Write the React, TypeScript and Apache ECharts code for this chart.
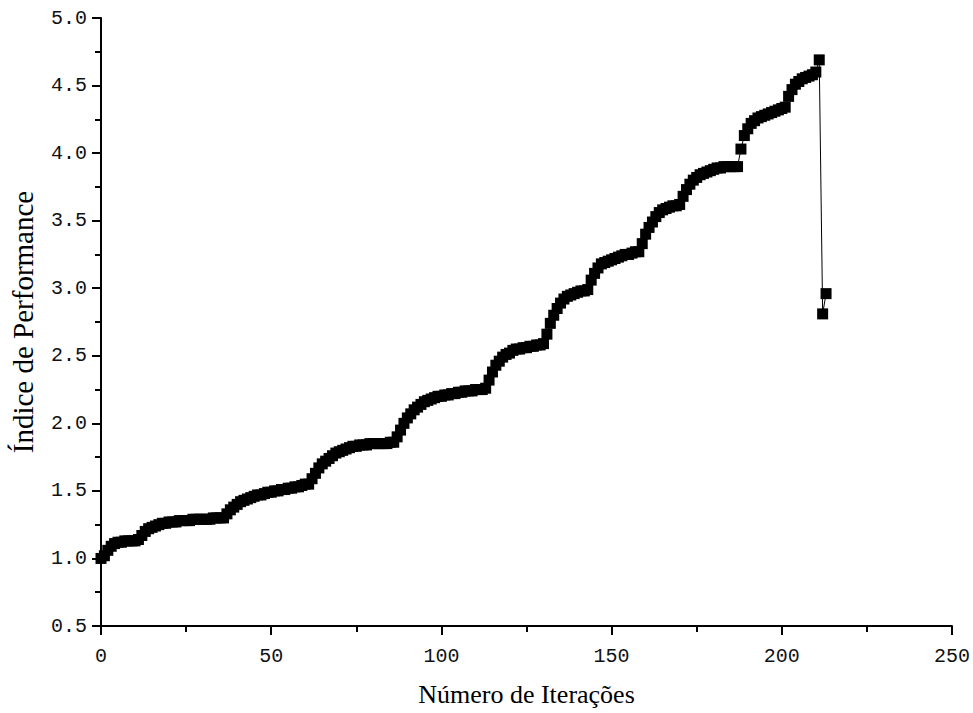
import { useEffect, useRef } from "react";
import * as echarts from "echarts";

// Performance index, one value per iteration (0..213)
const performance: number[] = [
  // 0-11
  1.0, 1.02, 1.06, 1.09, 1.11, 1.12, 1.12, 1.13, 1.13, 1.13, 1.13, 1.14,
  // 12-36
  1.17, 1.2, 1.22, 1.23, 1.24, 1.25, 1.26, 1.26, 1.27, 1.27, 1.27, 1.28, 1.28,
  1.28, 1.28, 1.29, 1.29, 1.29, 1.29, 1.29, 1.29, 1.3, 1.3, 1.3, 1.3,
  // 37-61
  1.33, 1.36, 1.38, 1.4, 1.42, 1.43, 1.44, 1.45, 1.46, 1.47, 1.47, 1.48, 1.49,
  1.49, 1.5, 1.5, 1.51, 1.51, 1.52, 1.52, 1.53, 1.53, 1.54, 1.55, 1.55,
  // 62-86
  1.59, 1.63, 1.67, 1.7, 1.72, 1.74, 1.76, 1.78, 1.79, 1.8, 1.81, 1.82, 1.83,
  1.83, 1.84, 1.84, 1.84, 1.85, 1.85, 1.85, 1.85, 1.85, 1.85, 1.86, 1.86,
  // 87-113
  1.9, 1.95, 2.0, 2.04, 2.07, 2.1, 2.12, 2.14, 2.16, 2.17, 2.18, 2.19, 2.2, 2.2,
  2.21, 2.21, 2.22, 2.22, 2.23, 2.23, 2.24, 2.24, 2.24, 2.25, 2.25, 2.25, 2.26,
  // 114-130
  2.32, 2.38, 2.43, 2.46, 2.49, 2.51, 2.52, 2.54, 2.55, 2.55, 2.56, 2.56, 2.57,
  2.57, 2.58, 2.58, 2.59,
  // 131-143
  2.66, 2.74, 2.8, 2.85, 2.89, 2.92, 2.94, 2.95, 2.96, 2.97, 2.98, 2.98, 2.99,
  // 144-158
  3.06, 3.11, 3.15, 3.18, 3.19, 3.2, 3.21, 3.22, 3.23, 3.24, 3.25, 3.25, 3.26,
  3.27, 3.27,
  // 159-170
  3.33, 3.4, 3.45, 3.49, 3.53, 3.56, 3.58, 3.59, 3.6, 3.61, 3.61, 3.62,
  // 171-187
  3.68, 3.73, 3.77, 3.8, 3.82, 3.84, 3.85, 3.86, 3.87, 3.88, 3.89, 3.89, 3.9,
  3.9, 3.9, 3.9, 3.9,
  // 188-201
  4.03, 4.13, 4.18, 4.22, 4.24, 4.26, 4.27, 4.28, 4.29, 4.3, 4.31, 4.32, 4.33,
  4.34,
  // 202-210
  4.42, 4.47, 4.51, 4.53, 4.55, 4.56, 4.57, 4.58, 4.6,
  // 211-213
  4.69, 2.81, 2.96,
];

const xTitle = "Número de Iterações";
const yTitle = "Índice de Performance";
const xRange = [0, 250];
const yRange = [0.5, 5.0];

export default function App() {
  const ref = useRef<HTMLDivElement>(null);
  useEffect(() => {
    const chart = echarts.init(ref.current!, null, { renderer: "svg" });
    const axisCommon = {
      axisLine: { show: true, lineStyle: { color: "#000", width: 2 } },
      axisTick: { show: true, inside: false, length: 9, lineStyle: { color: "#000", width: 2 } },
      minorTick: { show: true, splitNumber: 2, length: 6, lineStyle: { color: "#000", width: 2 } },
      splitLine: { show: false },
      minorSplitLine: { show: false },
    };
    chart.setOption({
      animation: false,
      backgroundColor: "#fff",
      grid: { left: 99, right: 11, top: 18, bottom: 87 },
      xAxis: {
        type: "value",
        min: xRange[0],
        max: xRange[1],
        interval: 50,
        ...axisCommon,
        name: xTitle,
        nameLocation: "middle",
        nameGap: 55,
        nameTextStyle: { fontFamily: "'Liberation Serif', serif", fontSize: 26, color: "#000" },
        axisLabel: {
          margin: 20,
          color: "#111",
          fontFamily: "'Liberation Sans Narrow', 'Liberation Mono', monospace",
          fontSize: 20,
        },
      },
      yAxis: {
        type: "value",
        min: yRange[0],
        max: yRange[1],
        interval: 0.5,
        ...axisCommon,
        name: yTitle,
        nameLocation: "middle",
        nameGap: 64,
        nameRotate: 90,
        nameTextStyle: { fontFamily: "'Liberation Serif', serif", fontSize: 29, color: "#000" },
        axisLabel: {
          margin: 14,
          color: "#111",
          fontFamily: "'Liberation Mono', monospace",
          fontSize: 20,
          formatter: (v: number) => v.toFixed(1),
        },
      },
      series: [
        {
          type: "line",
          data: performance.map((v, i) => [i, v]),
          symbol: "rect",
          symbolSize: 11,
          showAllSymbol: true,
          clip: false,
          itemStyle: { color: "#000" },
          lineStyle: { color: "#000", width: 1 },
        },
      ],
    });
    return () => chart.dispose();
  }, []);
  return (
    <div
      ref={ref}
      style={{ position: "fixed", left: 0, top: 0, width: 973, height: 713, background: "#fff" }}
    />
  );
}
